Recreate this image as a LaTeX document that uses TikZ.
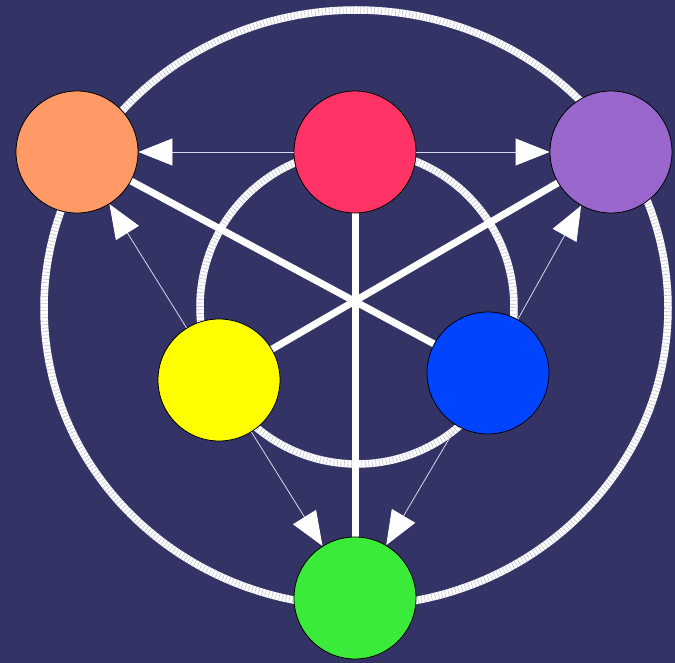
\documentclass[tikz,border=0pt]{standalone}
\usetikzlibrary{arrows.meta}
\definecolor{bg}{RGB}{51,51,102}
\definecolor{corange}{RGB}{255,153,102}
\definecolor{cred}{RGB}{255,51,102}
\definecolor{cpurple}{RGB}{153,102,204}
\definecolor{cyellow}{RGB}{255,255,0}
\definecolor{cblue}{RGB}{0,68,255}
\definecolor{cgreen}{RGB}{58,235,58}
\definecolor{tickcol}{RGB}{195,195,212}
\definecolor{flowcol}{RGB}{215,215,235}
\tikzset{
  ball/.style={circle,draw=black,line width=0.8pt,minimum size=122pt,inner sep=0pt},
  ring/.style={white,line width=7.5pt},
  ringtick/.style={tickcol,line width=7.5pt,dash pattern=on 0.6pt off 2.9pt},
  spoke/.style={white,line width=7pt},
  flow/.style={draw=flowcol,line width=0.8pt,-{Triangle[length=34pt,width=27pt,fill=white,color=white]}}
}
\begin{document}
\begin{tikzpicture}[x=1pt,y=-1pt]
\fill[bg] (0,0) rectangle (675,663);
\useasboundingbox (0,0) rectangle (675,663);
\coordinate (ocen) at (356,308);
\coordinate (icen) at (357,307);
\draw[ring] (ocen) ellipse [x radius=312, y radius=298];
\draw[ringtick] (ocen) ellipse [x radius=312, y radius=298];
\draw[ring] (icen) circle (157);
\draw[ringtick] (icen) circle (157);
\coordinate (rc) at (355,152);
\coordinate (oc2) at (77,152);
\coordinate (pc) at (611,152);
\coordinate (yc) at (219,380);
\coordinate (bc) at (488,373);
\coordinate (gc) at (355,598);
\draw[spoke] (rc) -- (gc);
\draw[spoke] (oc2) -- (bc);
\draw[spoke] (pc) -- (yc);
\node[ball,fill=corange] (orange) at (oc2) {};
\node[ball,fill=cred] (red) at (rc) {};
\node[ball,fill=cpurple] (purple) at (pc) {};
\node[ball,fill=cyellow] (yellow) at (yc) {};
\node[ball,fill=cblue] (blue) at (bc) {};
\node[ball,fill=cgreen] (green) at (gc) {};
\draw[flow] (red) -- (orange);
\draw[flow] (red) -- (purple);
\draw[flow] (yellow) -- (orange);
\draw[flow] (blue) -- (purple);
\draw[flow] (yellow) -- (green);
\draw[flow] (blue) -- (green);
\end{tikzpicture}
\end{document}
